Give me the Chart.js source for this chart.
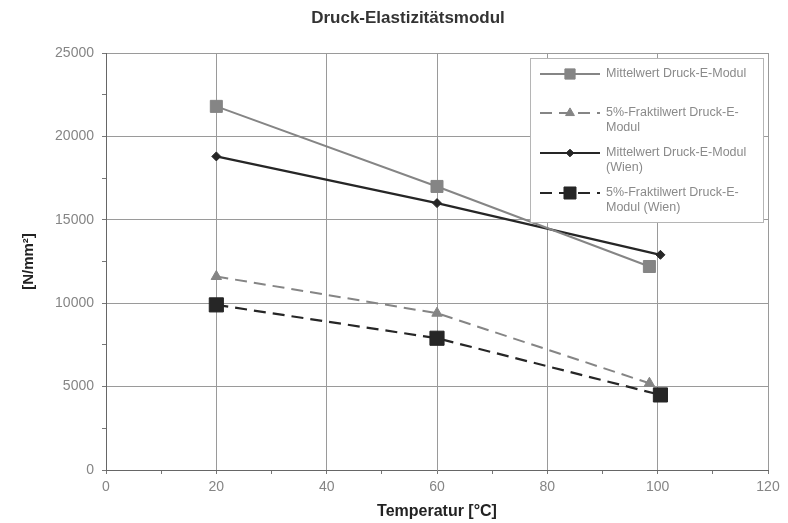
<!DOCTYPE html>
<html>
<head>
<meta charset="utf-8">
<script src="https://cdn.jsdelivr.net/npm/chart.js@4/dist/chart.umd.min.js"></script>
<style>
  html, body { margin: 0; padding: 0; background: #fff; }
  #wrap { width: 788px; height: 523px; position: relative; }
</style>
</head>
<body>
<div id="wrap"><canvas id="chart"></canvas></div>
<script>
const tempGrey = [20, 60, 98.5];
const tempBlack = [20, 60, 100.5];
const mittelwert = [21800, 17000, 12200];
const fraktilwert = [11600, 9400, 5200];
const mittelwertWien = [18800, 16000, 12900];
const fraktilwertWien = [9900, 7900, 4500];
const chartTitle = "Druck-Elastizitätsmodul";
const legendLines = [
  ["Mittelwert Druck-E-Modul"],
  ["5%-Fraktilwert Druck-E-", "Modul"],
  ["Mittelwert Druck-E-Modul", "(Wien)"],
  ["5%-Fraktilwert Druck-E-", "Modul (Wien)"]
];

const greyColor = "#858585";
const blackColor = "#262626";
const fontFamily = "\"Liberation Sans\", Arial, sans-serif";

function toPoints(xs, ys) {
  return xs.map((x, i) => ({ x: x, y: ys[i] }));
}

function drawMarker(ctx, ds, x, y) {
  ctx.save();
  ctx.fillStyle = ds.pointBackgroundColor;
  ctx.strokeStyle = ds.pointBorderColor;
  ctx.lineWidth = ds.pointBorderWidth;
  ctx.setLineDash([]);
  Chart.helpers.drawPoint(ctx, {
    pointStyle: ds.pointStyle,
    radius: ds.pointRadius * 0.85,
    rotation: 0,
    borderWidth: ds.pointBorderWidth
  }, x, y);
  ctx.restore();
}

// title + legend box in the top right corner of the plot
const titleLegendPlugin = {
  id: "titleLegend",
  afterDatasetsDraw(chart) {
    const ctx = chart.ctx;
    const area = chart.chartArea;

    ctx.save();
    ctx.fillStyle = "#333333";
    ctx.font = "bold 17px " + fontFamily;
    ctx.textAlign = "center";
    ctx.textBaseline = "middle";
    ctx.fillText(chartTitle, 408, 18);
    ctx.restore();

    const left = area.right - 238;
    const top = area.top + 5;
    const width = 233;
    const height = 164;
    ctx.save();
    ctx.fillStyle = "#ffffff";
    ctx.fillRect(left, top, width, height);
    ctx.strokeStyle = "#b5b5b5";
    ctx.lineWidth = 1;
    ctx.strokeRect(left + 0.5, top + 0.5, width, height);

    const rowY = [16, 55, 95, 135];
    chart.data.datasets.forEach((ds, i) => {
      const y = top + rowY[i];
      ctx.save();
      ctx.strokeStyle = ds.borderColor;
      ctx.lineWidth = ds.borderWidth;
      ctx.setLineDash(ds.borderDash || []);
      ctx.beginPath();
      ctx.moveTo(left + 10, y);
      ctx.lineTo(left + 70, y);
      ctx.stroke();
      ctx.restore();
      drawMarker(ctx, ds, left + 40, y);

      ctx.fillStyle = "#8a8a8a";
      ctx.font = "12.5px " + fontFamily;
      ctx.textBaseline = "middle";
      ctx.textAlign = "left";
      legendLines[i].forEach((line, j) => {
        ctx.fillText(line, left + 76, y + j * 15);
      });
    });
    ctx.restore();
  }
};

new Chart(document.getElementById("chart"), {
  type: "line",
  data: {
    datasets: [
      {
        label: "Mittelwert Druck-E-Modul",
        data: toPoints(tempGrey, mittelwert),
        borderColor: greyColor,
        borderWidth: 2,
        pointStyle: "rect",
        pointRadius: 8.5,
        pointBackgroundColor: greyColor,
        pointBorderColor: greyColor,
        pointBorderWidth: 1
      },
      {
        label: "5%-Fraktilwert Druck-E-Modul",
        data: toPoints(tempGrey, fraktilwert),
        borderColor: greyColor,
        borderWidth: 2,
        borderDash: [12, 7],
        pointStyle: "triangle",
        pointRadius: 6,
        pointBackgroundColor: greyColor,
        pointBorderColor: greyColor,
        pointBorderWidth: 1
      },
      {
        label: "Mittelwert Druck-E-Modul (Wien)",
        data: toPoints(tempBlack, mittelwertWien),
        borderColor: blackColor,
        borderWidth: 2.2,
        pointStyle: "rectRot",
        pointRadius: 4.5,
        pointBackgroundColor: blackColor,
        pointBorderColor: blackColor,
        pointBorderWidth: 1
      },
      {
        label: "5%-Fraktilwert Druck-E-Modul (Wien)",
        data: toPoints(tempBlack, fraktilwertWien),
        borderColor: blackColor,
        borderWidth: 2.2,
        borderDash: [12, 7],
        pointStyle: "rect",
        pointRadius: 10,
        pointBackgroundColor: blackColor,
        pointBorderColor: blackColor,
        pointBorderWidth: 1
      }
    ]
  },
  options: {
    responsive: true,
    maintainAspectRatio: false,
    animation: false,
    layout: { padding: { left: 20, right: 20, top: 53, bottom: 2 } },
    plugins: {
      legend: { display: false },
      tooltip: { enabled: false },
      title: { display: false }
    },
    scales: {
      x: {
        type: "linear",
        min: 0,
        max: 120,
        afterFit(axis) { axis.height = 51; },
        border: { color: "#666666", width: 1 },
        grid: {
          color: (c) => (c.tick && c.tick.value % 20 === 0 && c.tick.value !== 0 ? "#9a9a9a" : "rgba(0,0,0,0)"),
          tickColor: "#777777",
          tickLength: 4,
          lineWidth: 1
        },
        ticks: {
          stepSize: 10,
          color: "#858585",
          padding: 5,
          font: { family: fontFamily, size: 14 },
          callback: (v) => (v % 20 === 0 ? String(v) : "")
        },
        title: {
          display: true,
          text: "Temperatur [°C]",
          color: "#222222",
          font: { family: fontFamily, size: 16, weight: "bold" },
          padding: { top: -6, bottom: 0 }
        }
      },
      y: {
        min: 0,
        max: 25000,
        afterFit(axis) { axis.width = 86; },
        border: { color: "#666666", width: 1 },
        grid: {
          color: (c) => (c.tick && c.tick.value % 5000 === 0 && c.tick.value !== 0 ? "#9a9a9a" : "rgba(0,0,0,0)"),
          tickColor: "#777777",
          tickLength: 4,
          lineWidth: 1
        },
        ticks: {
          stepSize: 2500,
          color: "#858585",
          padding: 8,
          font: { family: fontFamily, size: 14 },
          callback: (v) => (v % 5000 === 0 ? String(v) : "")
        },
        title: {
          display: true,
          text: "[N/mm²]",
          color: "#222222",
          font: { family: fontFamily, size: 15, weight: "bold" },
          padding: { top: 0, bottom: 2 }
        }
      }
    }
  },
  plugins: [titleLegendPlugin]
});
</script>
</body>
</html>
